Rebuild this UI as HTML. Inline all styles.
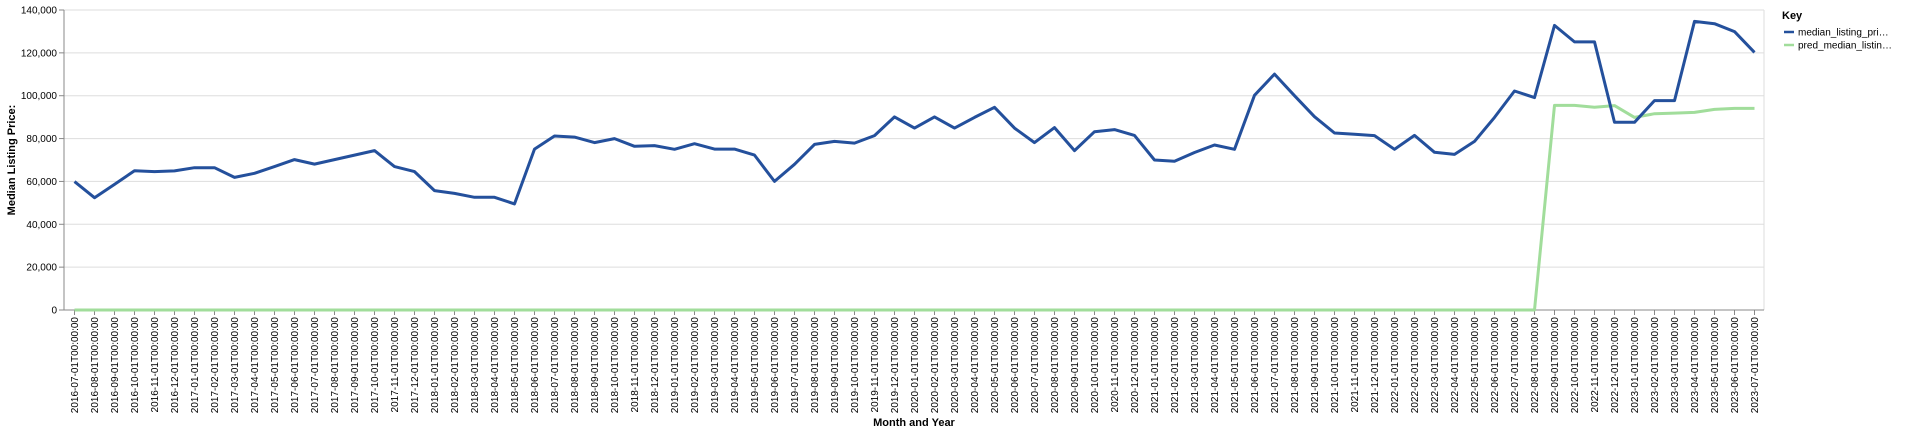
<!DOCTYPE html>
<html><head><meta charset="utf-8"><style>
body{margin:0;background:#fff;}
svg{display:block;font-family:"Liberation Sans",Arial,sans-serif;}
</style></head><body>
<svg id="chart" width="1920" height="434">
<g id="grid"></g>
<g id="yaxis"></g>
<g id="xaxis"></g>
<g id="series"></g>
<text x="15" y="160" transform="rotate(-90 15 160)" text-anchor="middle" font-size="11" font-weight="bold" fill="#000">Median Listing Price:</text>
<text x="914" y="426" text-anchor="middle" font-size="11" font-weight="bold" fill="#000">Month and Year</text>
<g>
<text x="1782" y="19" font-size="11" font-weight="bold" fill="#000">Key</text>
<g>
<line x1="1784" y1="32" x2="1794" y2="32" stroke="#24509c" stroke-width="2.5"/>
<text x="1798" y="35.5" font-size="10" fill="#000">median_listing_pri…</text></g>
<g>
<line x1="1784" y1="45" x2="1794" y2="45" stroke="#a1dd9b" stroke-width="2.5"/>
<text x="1798" y="48.5" font-size="10" fill="#000">pred_median_listin…</text></g>
</g>
</svg>
<script>
const months = [];
for (let y = 2016, m = 7; !(y === 2023 && m === 8); ) { months.push(y + '-' + String(m).padStart(2,'0') + '-01T00:00:00'); m++; if (m > 12) { m = 1; y++; } }
const medianValues = [59900,52400,58600,65000,64600,64900,66400,66400,61900,63800,66900,70200,68100,70200,72300,74400,66900,64600,55700,54400,52600,52600,49500,75100,81200,80700,78100,80000,76400,76700,75000,77600,75100,75100,72300,60000,68000,77300,78700,77900,81400,90100,84900,90100,84900,89900,94600,84900,78100,85100,74400,83200,84200,81500,70000,69400,73500,77000,75000,100200,110100,100000,90200,82600,82000,81400,75000,81500,73600,72600,78700,89900,102200,99100,132800,125100,125100,87600,87600,97700,97700,134700,133600,129900,120200];
const predValues = [0,0,0,0,0,0,0,0,0,0,0,0,0,0,0,0,0,0,0,0,0,0,0,0,0,0,0,0,0,0,0,0,0,0,0,0,0,0,0,0,0,0,0,0,0,0,0,0,0,0,0,0,0,0,0,0,0,0,0,0,0,0,0,0,0,0,0,0,0,0,0,0,0,0,95500,95500,94600,95400,89900,91600,91900,92200,93600,94100,94100];
const yTicks = [0,20000,40000,60000,80000,100000,120000,140000];

const NS = 'http://www.w3.org/2000/svg';
const L = 64, R = 1764, T = 10, B = 310, yMax = 140000;
const step = (R - L - 20) / (months.length - 1);
const xs = i => L + 10.5 + i * 20 * ((months.length - 1) * step / ((months.length - 1) * 20));
const ys = v => B - v / yMax * (B - T);
function mk(tag, attrs, parent) { const e = document.createElementNS(NS, tag); for (const k in attrs) e.setAttribute(k, attrs[k]); parent.appendChild(e); return e; }
const grid = document.getElementById('grid'), ya = document.getElementById('yaxis'), xa = document.getElementById('xaxis'), ser = document.getElementById('series');
yTicks.forEach(v => {
  const g = mk('line', {x1: L, x2: R, y1: ys(v), y2: ys(v), stroke: '#ddd', 'stroke-width': 1}, grid);
  
  
  mk('line', {x1: L - 5, x2: L, y1: ys(v), y2: ys(v), stroke: '#888'}, ya);
  const t = mk('text', {x: L - 7, y: ys(v) + 3.5, 'text-anchor': 'end', 'font-size': 10, fill: '#000'}, ya);
  t.textContent = v.toLocaleString('en-US');
  
  
});
mk('line', {x1: R, x2: R, y1: T, y2: B, stroke: '#ddd'}, grid);
mk('line', {x1: L, x2: L, y1: T, y2: B, stroke: '#888'}, ya);
mk('line', {x1: L, x2: R, y1: B, y2: B, stroke: '#888'}, xa);
months.forEach((m, i) => {
  const x = xs(i);
  mk('line', {x1: x, x2: x, y1: B, y2: B + 5, stroke: '#888'}, xa);
  const t = mk('text', {x: 0, y: 0, transform: `translate(${x + 3.5},${B + 7}) rotate(-90)`, 'text-anchor': 'end', 'font-size': 10, fill: '#000'}, xa);
  t.textContent = m;
  
  
});
function line(vals, color, name) {
  const p = mk('path', {d: vals.map((v, i) => (i ? 'L' : 'M') + xs(i).toFixed(1) + ',' + ys(v).toFixed(1)).join(''), fill: 'none', stroke: color, 'stroke-width': 3, 'stroke-linejoin': 'round'}, ser);
  
  
}
line(predValues, '#a1dd9b', 'pred-median-listing-price-line');
line(medianValues, '#24509c', 'median-listing-price-line');
</script>
</body></html>
